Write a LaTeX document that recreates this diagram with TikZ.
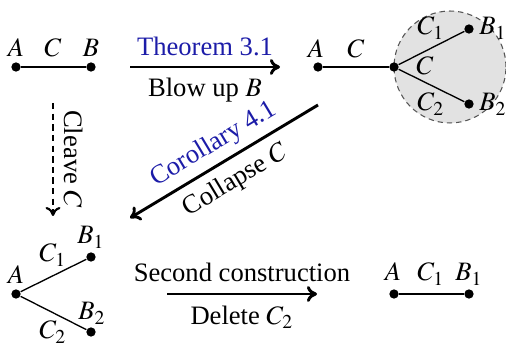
\documentclass[tikz,border=0pt]{standalone}
\usepackage{mathptmx}
\usepackage{fontspec}
\setmainfont{Liberation Serif}
\usetikzlibrary{arrows.meta}
\definecolor{RefBlue}{HTML}{1C1CA8}
\definecolor{Shade}{HTML}{E2E2E2}
\definecolor{Rim}{HTML}{555555}
\tikzset{
  vertex/.style={circle, fill=black, inner sep=0pt, minimum size=3.5pt},
  tag/.style={anchor=base, inner sep=0pt},
  edge/.style={line width=0.5pt},
  move/.style={-{To[length=3.8pt,width=6pt]}, line width=1.1pt},
  hint/.style={-{To[length=3.4pt,width=5.6pt]}, line width=0.8pt, dash pattern=on 2.4pt off 1.6pt},
  note/.style={inner sep=3.5pt},
  ref/.style={text=RefBlue}
}

\begin{document}
\begin{tikzpicture}[x=0.376pt,y=-0.376pt]
  \useasboundingbox (0,0) rectangle (506,344);
  % the segment A -- B
  \node[vertex] (a0) at (16,67) {};
  \node[vertex] (b0) at (91,67) {};
  \node[tag] (la0) at (16,57) {$A$};
  \node[tag] (lc0) at (53,57) {$C$};
  \node[tag] (lb0) at (91,57) {$B$};
  \draw[edge] (a0)--(b0);

  % blown up at B
  \node[circle, draw=Rim, fill=Shade, line width=0.4pt, dash pattern=on 2pt off 1.5pt,
        minimum size=42.1pt, inner sep=0pt] (blob) at (450,67) {};
  \node[vertex] (a1) at (318,67) {};
  \node[vertex] (m1) at (394,67) {};
  \node[vertex] (p1) at (469,29) {};
  \node[vertex] (q1) at (469,104) {};
  \node[tag] (la1) at (316,58) {$A$};
  \node[tag] (lc1) at (356,58) {$C$};
  \node[tag] (lp1) at (431,35) {$C_1$};
  \node[tag] (lm1) at (425,75) {$C$};
  \node[tag] (lq1) at (431,111) {$C_2$};
  \node[tag] (lbp1) at (493,35) {$B_1$};
  \node[tag] (lbq1) at (493,111) {$B_2$};
  \draw[edge] (a1)--(m1);
  \draw[edge] (m1)--(p1);
  \draw[edge] (m1)--(q1);

  % cleaved at C
  \node[vertex] (a2) at (16,294) {};
  \node[vertex] (p2) at (91,257) {};
  \node[vertex] (q2) at (91,332) {};
  \node[tag] (la2) at (16,284) {$A$};
  \node[tag] (lp2) at (53,262) {$C_1$};
  \node[tag] (lq2) at (53,339) {$C_2$};
  \node[tag] (lbp2) at (91,244) {$B_1$};
  \node[tag] (lbq2) at (92,320) {$B_2$};
  \draw[edge] (a2)--(p2);
  \draw[edge] (a2)--(q2);

  % after deleting C_2
  \node[vertex] (a3) at (394,294) {};
  \node[vertex] (b3) at (469,294) {};
  \node[tag] (la3) at (393,281) {$A$};
  \node[tag] (lc3) at (431,281) {$C_1$};
  \node[tag] (lb3) at (469,281) {$B_1$};
  \draw[edge] (a3)--(b3);

  % the moves
  \coordinate (t0) at (130,67);
  \coordinate (t1) at (280,67);
  \coordinate (k0) at (318,105);
  \coordinate (k1) at (130,218);
  \coordinate (v0) at (53,103);
  \coordinate (v1) at (53,216);
  \coordinate (s0) at (167,294);
  \coordinate (s1) at (317,294);
  \draw[move] (t0)--(t1)
    node[midway, above, note, ref] (thm) {Theorem 3.1}
    node[midway, below, note] (blow) {Blow up $B$};
  \draw[move] (k0)--(k1)
    node[midway, above, sloped, inner sep=2.4pt, ref] (cor) {Corollary 4.1}
    node[midway, below, sloped, inner sep=3.4pt] (coll) {Collapse $C$};
  \draw[hint] (v0)--(v1);
  \node[rotate=-90] (cleave) at (73,159) {Cleave $C$};
  \draw[move] (s0)--(s1)
    node[midway, above, note, inner sep=4.2pt] (sec) {Second construction}
    node[midway, below, note, inner sep=4pt] (del) {Delete $C_2$};
\end{tikzpicture}
\end{document}
